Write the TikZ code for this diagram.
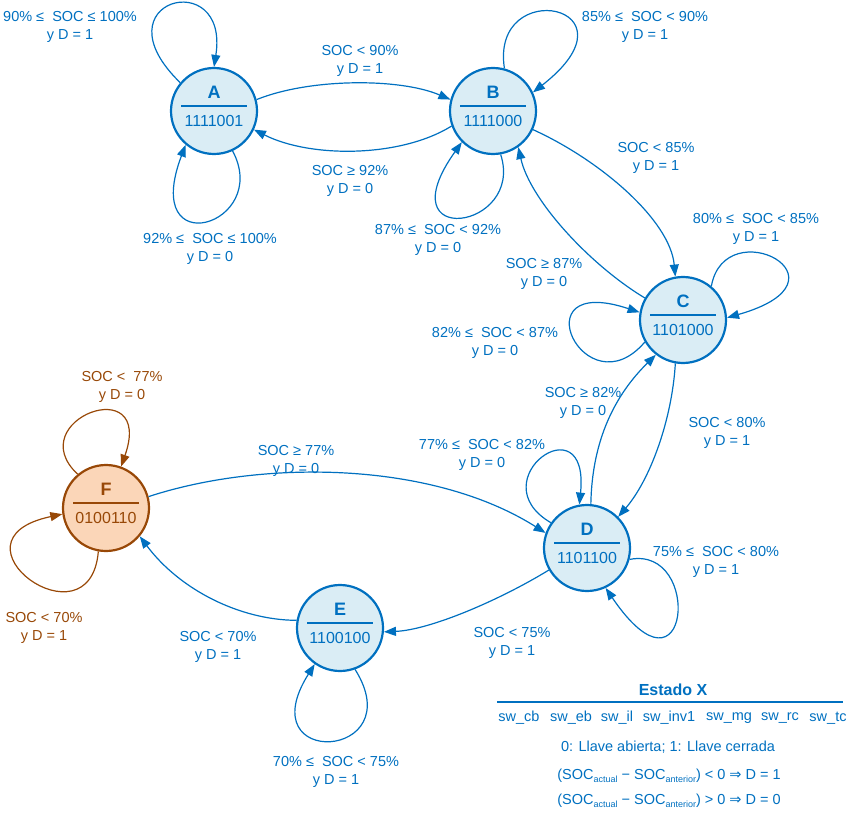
\documentclass[tikz,border=0pt]{standalone}
\usepackage{fontspec}
\setmainfont{Liberation Sans}
\newfontfamily\dejavu{DejaVu Sans}
\usetikzlibrary{arrows.meta,calc}
\definecolor{cb}{RGB}{0,112,192}
\definecolor{cfill}{RGB}{218,237,245}
\definecolor{cbr}{RGB}{152,72,7}
\definecolor{cfo}{RGB}{251,214,184}
\newcommand\subs[1]{\raisebox{-2.5pt}{\fontsize{9}{9}\selectfont #1}}
\tikzset{
  st/.style={circle, draw=cb, fill=cfill, line width=2.2pt, minimum size=86pt, inner sep=0pt},
  stF/.style={st, draw=cbr, fill=cfo},
  ltr/.style={font=\fontsize{18}{18}\selectfont\bfseries, text=cb, inner sep=0pt},
  num/.style={font=\fontsize{16}{16}\selectfont, text=cb, inner sep=0pt},
  sepl/.style={draw=cb, line width=2pt},
  edge/.style={draw=cb, line width=1.2pt, -{Triangle[length=12pt,width=9pt]}},
  edgeF/.style={edge, draw=cbr},
  lab/.style={font=\fontsize{14.5}{18.5}\selectfont, text=cb, align=center, inner sep=0pt},
  labF/.style={lab, text=cbr},
  leg/.style={font=\fontsize{14.5}{18.5}\selectfont, text=cb, inner sep=0pt},
}
\begin{document}
\begin{tikzpicture}[x=1pt,y=-1pt]
\useasboundingbox (0,0) rectangle (851,821);

% states
\node[st] (A) at (214,111) {};
\node[st] (B) at (493,111) {};
\node[st] (C) at (683,320) {};
\node[st] (D) at (587,548) {};
\node[st] (E) at (340,628) {};
\node[stF] (F) at (106,508) {};

\foreach \n/\code in {A/1111001,B/1111000,C/1101000,D/1101100,E/1100100}{
  \node[ltr] (\n-l) at ($(\n)+(0,-19)$) {\n};
  \draw[sepl] ($(\n)+(-33,-5)$) -- ($(\n)+(33,-5)$);
  \node[num] (\n-c) at ($(\n)+(0,10)$) {\code};
}
\node[ltr, text=cbr] (F-l) at ($(F)+(0,-19)$) {F};
\draw[sepl, draw=cbr] ($(F)+(-33,-5)$) -- ($(F)+(33,-5)$);
\node[num, text=cbr] (F-c) at ($(F)+(0,10)$) {0100110};

% transitions between states
\draw[edge] (A.15) .. controls (310,78) and (400,78) .. (B.165);
\draw[edge] (B.200) .. controls (400,158) and (310,158) .. (A.-25);
\draw[edge] (B.-25) .. controls (600,160) and (670,220) .. (C.100);
\draw[edge] (C.150) .. controls (590,265) and (530,200) .. (B.-55);
\draw[edge] (C.-100) .. controls (672,420) and (650,480) .. (D.45);
\draw[edge] (D.85) .. controls (592,440) and (615,395) .. (C.-128);
\draw[edge] (D.-150) .. controls (500,600) and (430,630) .. (E.-5);
\draw[edge] (E.170) .. controls (240,620) and (180,590) .. (F.-40);
\draw[edge] (F.15) .. controls (260,460) and (430,460) .. (D.160);

% self loops
\draw[edge] (A.140) .. controls (95,0) and (230,-35) .. (A.90);
\draw[edge] (A.-65) .. controls (272,225) and (140,265) .. (A.-130);
\draw[edge] (B.75) .. controls (490,-25) and (645,5) .. (B.25);
\draw[edge] (B.-80) .. controls (525,230) and (385,250) .. (B.-135);
\draw[edge] (C.50) .. controls (725,210) and (860,280) .. (C.3);
\draw[edge] (C.-150) .. controls (585,412) and (518,272) .. (C.170);
\draw[edge] (D.145) .. controls (478,480) and (590,400) .. (D.100);
\draw[edge] (D.-15) .. controls (703,545) and (690,712) .. (D.-65);
\draw[edge] (E.-70) .. controls (412,760) and (248,770) .. (E.-125);
\draw[edgeF] (F.130) .. controls (20,420) and (155,370) .. (F.70);
\draw[edgeF] (F.-100) .. controls (90,650) and (-60,540) .. (F.-172);

% labels
\node[lab] (l1) at (70,27) {90\% ≤\ \ SOC ≤ 100\%\\y D = 1};
\node[lab] (l2) at (360,61) {SOC < 90\%\\y D = 1};
\node[lab] (l3) at (350,181) {SOC ≥ 92\%\\y D = 0};
\node[lab] (l4) at (210,249) {92\% ≤\ \ SOC ≤ 100\%\\y D = 0};
\node[lab] (l5) at (645,27) {85\% ≤\ \ SOC < 90\%\\y D = 1};
\node[lab] (l6) at (438,240) {87\% ≤\ \ SOC < 92\%\\y D = 0};
\node[lab] (l7) at (656,158) {SOC < 85\%\\y D = 1};
\node[lab] (l8) at (544,274) {SOC ≥ 87\%\\y D = 0};
\node[lab] (l9) at (756,229) {80\% ≤\ \ SOC < 85\%\\y D = 1};
\node[lab] (l10) at (495,343) {82\% ≤\ \ SOC < 87\%\\y D = 0};
\node[lab] (l11) at (727,433) {SOC < 80\%\\y D = 1};
\node[lab] (l12) at (583,403) {SOC ≥ 82\%\\y D = 0};
\node[lab] (l13) at (482,455) {77\% ≤\ \ SOC < 82\%\\y D = 0};
\node[lab] (l14) at (716,562) {75\% ≤\ \ SOC < 80\%\\y D = 1};
\node[lab] (l15) at (512,643) {SOC < 75\%\\y D = 1};
\node[lab] (l16) at (218,647) {SOC < 70\%\\y D = 1};
\node[lab] (l17) at (336,772) {70\% ≤\ \ SOC < 75\%\\y D = 1};
\node[lab] (l18) at (296,461) {SOC ≥ 77\%\\y D = 0};
\node[labF] (l19) at (122,387) {SOC <\ \ 77\%\\y D = 0};
\node[labF] (l20) at (44,628) {SOC < 70\%\\y D = 1};

% legend
\node[ltr, font=\fontsize{16}{16}\selectfont\bfseries] (lt) at (673,690) {Estado X};
\coordinate (lg1) at (497,702);
\coordinate (lg2) at (843,702);
\draw[sepl] (lg1) -- (lg2);
\node[leg] (s1) at (519,718) {sw\_cb};
\node[leg] (s2) at (571,718) {sw\_eb};
\node[leg] (s3) at (617,718) {sw\_il};
\node[leg] (s4) at (669,718) {sw\_inv1};
\node[leg] (s5) at (729,718) {sw\_mg};
\node[leg] (s6) at (780,718) {sw\_rc};
\node[leg] (s7) at (828,718) {sw\_tc};
\node[leg] (n1) at (668,747) {0: Llave abierta; 1: Llave cerrada};
\node[leg] (n2) at (669,776) {(SOC\subs{actual} − SOC\subs{anterior}) < 0 {\dejavu ⇒} D = 1};
\node[leg] (n3) at (669,801) {(SOC\subs{actual} − SOC\subs{anterior}) > 0 {\dejavu ⇒} D = 0};
\end{tikzpicture}
\end{document}
